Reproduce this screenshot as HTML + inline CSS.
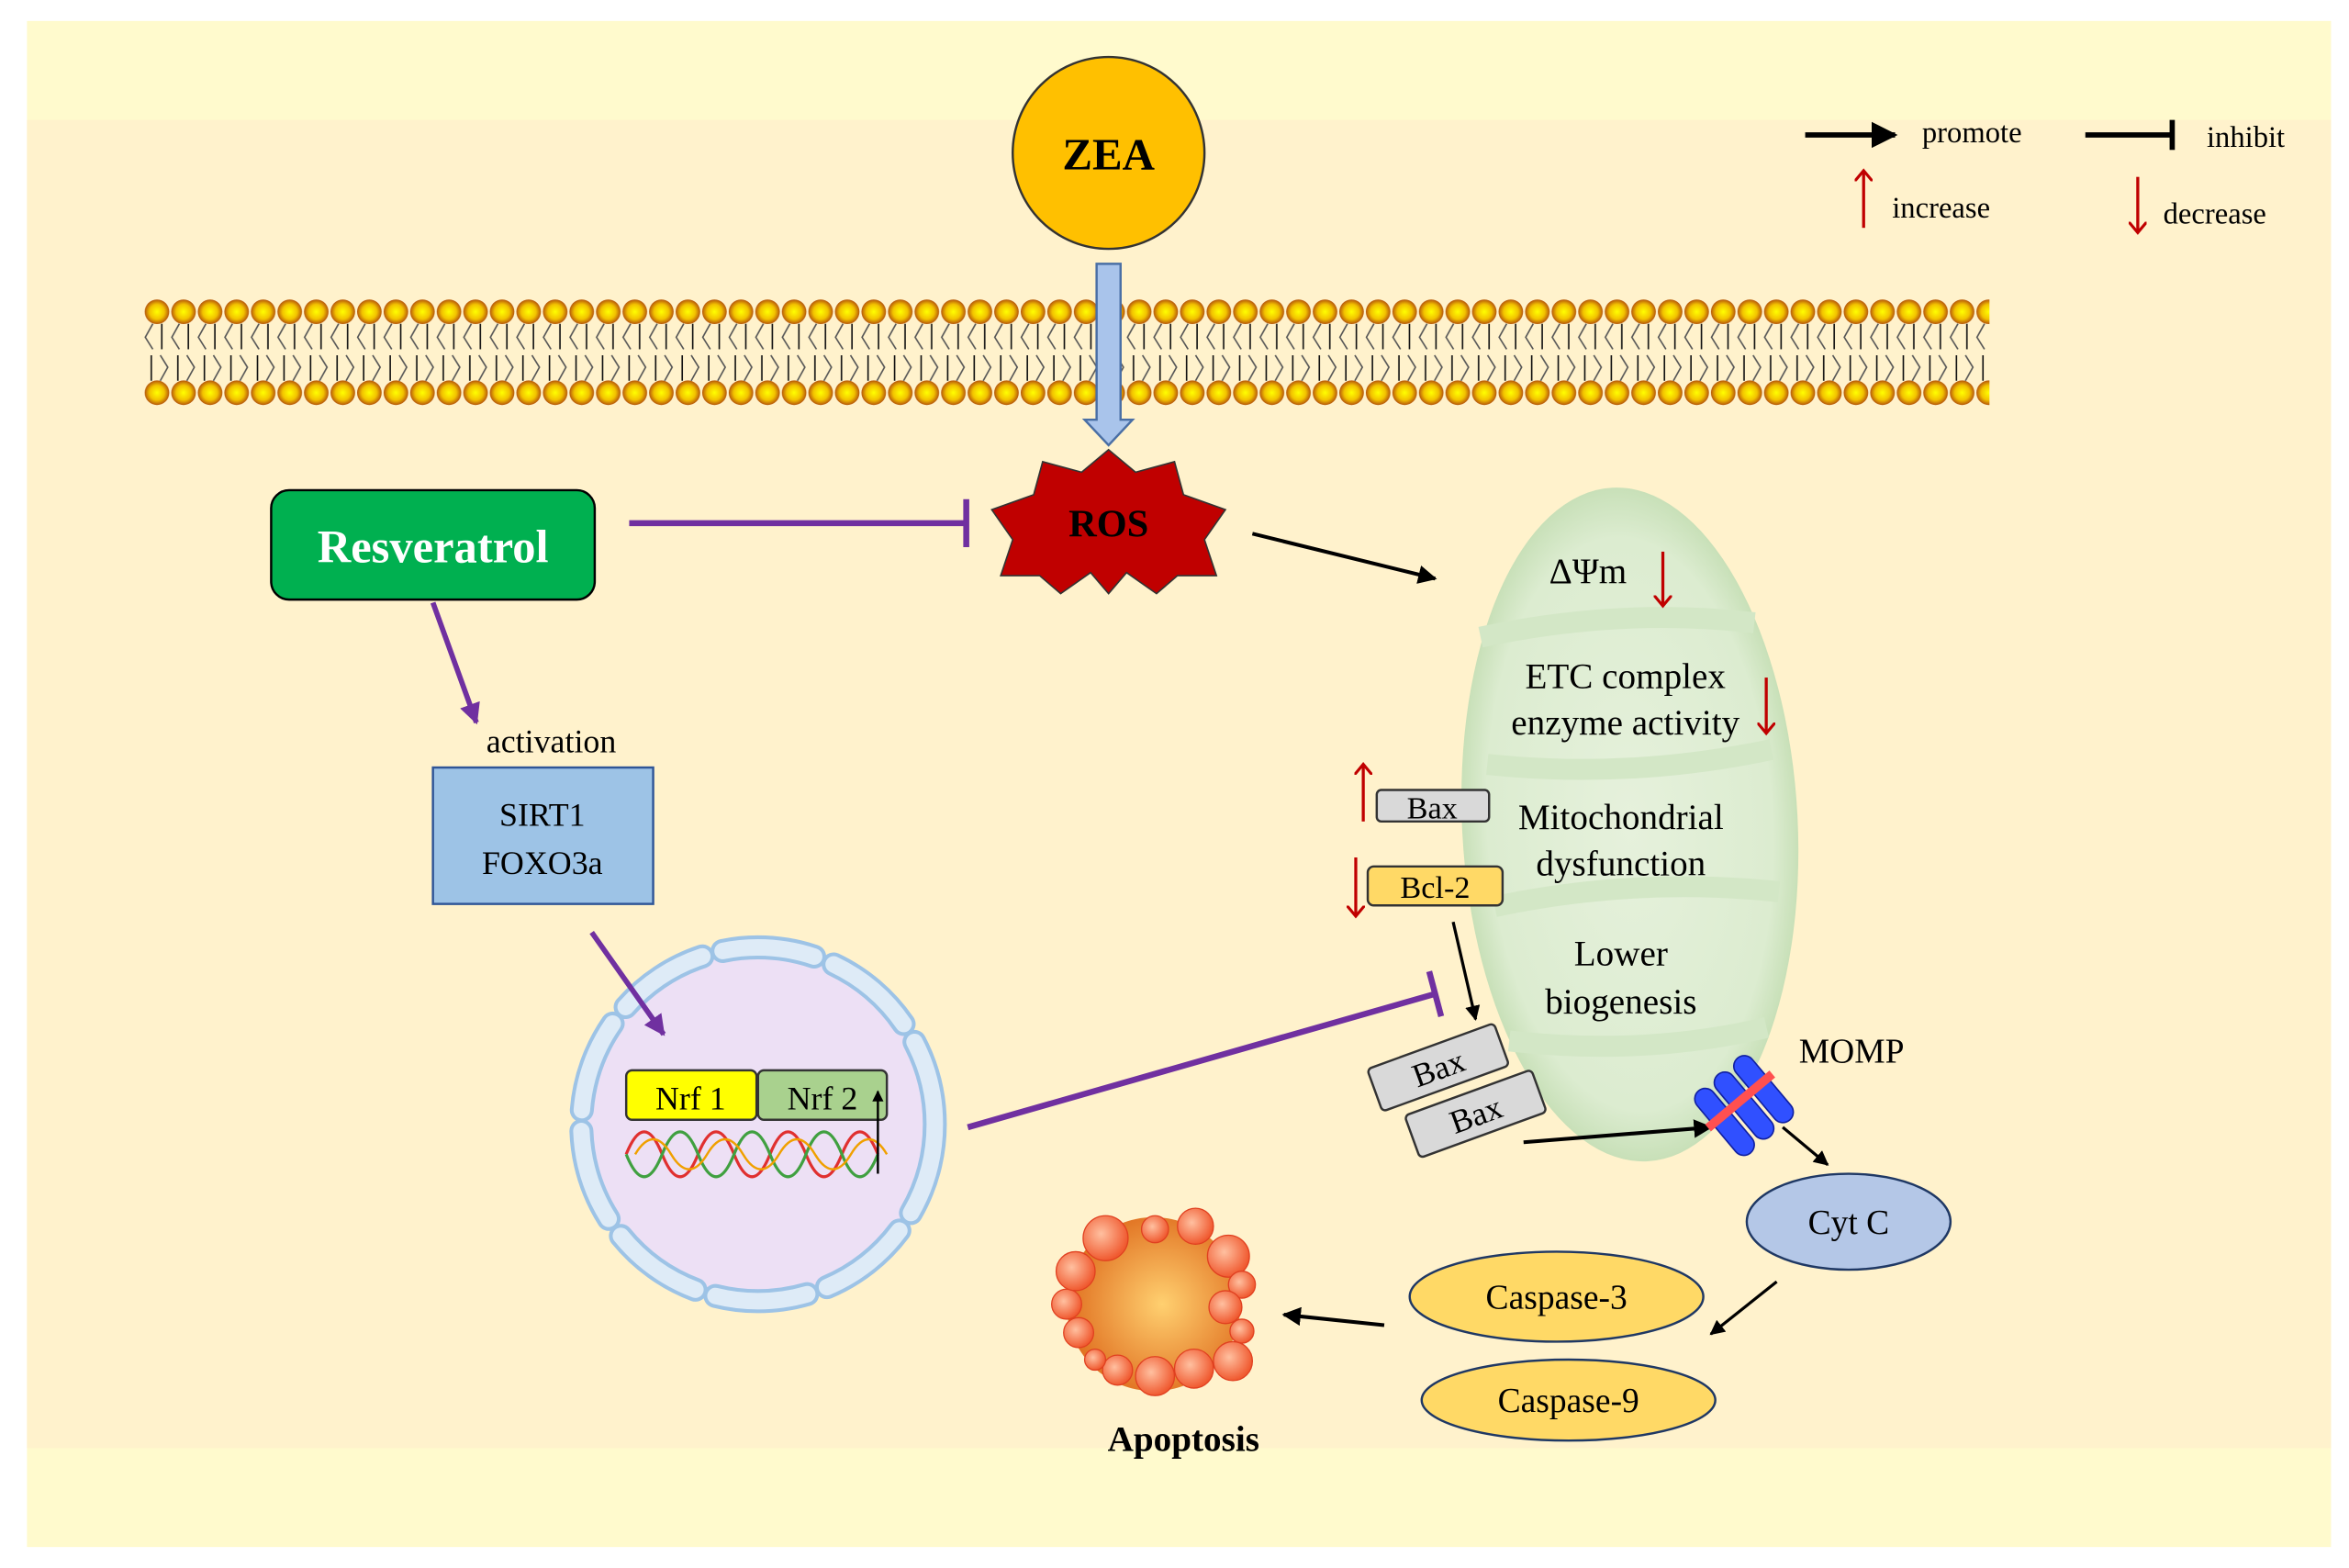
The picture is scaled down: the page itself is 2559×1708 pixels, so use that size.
<!DOCTYPE html>
<html><head><meta charset="utf-8"><style>
html,body{margin:0;padding:0;background:#fff;}
svg{display:block;}
text{font-family:"Liberation Serif",serif;}
</style></head><body>
<svg width="2559" height="1708" viewBox="0 0 1568 1046" preserveAspectRatio="none" xmlns="http://www.w3.org/2000/svg">
<defs>
<radialGradient id="head" cx="50%" cy="50%" r="50%"><stop offset="0" stop-color="#ffff00"/><stop offset="0.6" stop-color="#f2c200"/><stop offset="1" stop-color="#b5560a"/></radialGradient>
<pattern id="mem" x="96" y="0" width="17.72" height="1046" patternUnits="userSpaceOnUse">
<circle cx="8.8" cy="208" r="8.2" fill="url(#head)"/>
<circle cx="8.8" cy="262" r="8.2" fill="url(#head)"/>
<path d="M6 216 L1 225 L6 233" stroke="#555" stroke-width="1" fill="none"/>
<line x1="12" y1="216" x2="12" y2="233" stroke="#111" stroke-width="1"/>
<path d="M11 237 L16 245 L11 254" stroke="#555" stroke-width="1" fill="none"/>
<line x1="5" y1="237" x2="5" y2="254" stroke="#111" stroke-width="1"/>
</pattern>
<radialGradient id="apo" cx="55%" cy="50%" r="55%"><stop offset="0" stop-color="#ffd070"/><stop offset="1" stop-color="#e07020"/></radialGradient>
<radialGradient id="bub" cx="40%" cy="40%" r="60%"><stop offset="0" stop-color="#ffc0a0"/><stop offset="1" stop-color="#f05a30"/></radialGradient>
<radialGradient id="mito" cx="50%" cy="50%" r="50%"><stop offset="0" stop-color="#e6f1dc"/><stop offset="0.85" stop-color="#dcecd0"/><stop offset="1" stop-color="#c8e0b8"/></radialGradient>
<marker id="ar" viewBox="0 0 10 10" refX="9" refY="5" markerWidth="5" markerHeight="5" orient="auto"><path d="M0 0L10 5L0 10z" fill="#000"/></marker>
<marker id="arp" viewBox="0 0 10 10" refX="9" refY="5" markerWidth="4" markerHeight="4" orient="auto"><path d="M0 0L10 5L0 10z" fill="#7030a0"/></marker>
<marker id="arr" viewBox="0 0 10 10" refX="5" refY="5" markerWidth="6" markerHeight="6" orient="auto"><path d="M0 0L6 5L0 10" stroke="#c00000" stroke-width="1.6" fill="none"/></marker>
</defs>
<rect x="18" y="14" width="1538" height="1018" fill="#fffacd"/>
<rect x="18" y="80" width="1538" height="886" fill="#fff2cc"/>
<rect x="96" y="198" width="1232" height="76" fill="url(#mem)"/>
<circle cx="740" cy="102" r="64" fill="#ffc000" stroke="#333" stroke-width="1.5"/>
<text x="740" y="113" font-size="30" font-weight="bold" text-anchor="middle">ZEA</text>
<path d="M732 176 H748 V280 H756 L740 297 L724 280 H732 Z" fill="#a9c4eb" stroke="#4a6fa5" stroke-width="1.5"/>
<polygon points="740,300 758,315 784,308 790,330 818,340 804,360 812,384 786,384 772,396 752,382 740,396 728,382 708,396 694,384 668,384 676,360 662,340 690,330 696,308 722,315" fill="#c00000" stroke="#333" stroke-width="1"/>
<text x="740" y="358" font-size="26" font-weight="bold" text-anchor="middle">ROS</text>
<rect x="181" y="327" width="216" height="73" rx="12" fill="#00b050" stroke="#000" stroke-width="1.5"/>
<text x="289" y="375" font-size="31" font-weight="bold" fill="#fff" text-anchor="middle">Resveratrol</text>
<line x1="420" y1="349" x2="645" y2="349" stroke="#7030a0" stroke-width="4"/>
<line x1="645" y1="333" x2="645" y2="365" stroke="#7030a0" stroke-width="4"/>
<line x1="289" y1="402" x2="318" y2="482" stroke="#7030a0" stroke-width="3.5" marker-end="url(#arp)"/>
<text x="368" y="502" font-size="22" text-anchor="middle">activation</text>
<rect x="289" y="512" width="147" height="91" fill="#9dc3e6" stroke="#2f5597" stroke-width="1.5"/>
<text x="362" y="551" font-size="22" text-anchor="middle">SIRT1</text>
<text x="362" y="583" font-size="22" text-anchor="middle">FOXO3a</text>
<circle cx="506" cy="750" r="122" fill="#ede0f5"/>
<circle cx="506" cy="750" r="118" fill="none" stroke="#9dc3e6" stroke-width="16" stroke-dasharray="62 14" stroke-linecap="round"/>
<circle cx="506" cy="750" r="118" fill="none" stroke="#deebf7" stroke-width="11" stroke-dasharray="62 14" stroke-linecap="round"/>
<line x1="395" y1="622" x2="443" y2="690" stroke="#7030a0" stroke-width="3.5" marker-end="url(#arp)"/>
<rect x="418" y="714" width="87" height="33" rx="4" fill="#ffff00" stroke="#333" stroke-width="1.5"/>
<text x="461" y="740" font-size="22" text-anchor="middle">Nrf 1</text>
<rect x="506" y="714" width="86" height="33" rx="4" fill="#a9d18e" stroke="#333" stroke-width="1.5"/>
<text x="549" y="740" font-size="22" text-anchor="middle">Nrf 2</text>
<path d="M418 770 Q430 740 442 770 T466 770 T490 770 T514 770 T538 770 T562 770 T586 770" stroke="#e03030" stroke-width="2" fill="none"/>
<path d="M418 770 Q430 800 442 770 T466 770 T490 770 T514 770 T538 770 T562 770 T586 770" stroke="#40a040" stroke-width="2" fill="none"/>
<path d="M424 770 Q436 750 448 770 T472 770 T496 770 T520 770 T544 770 T568 770 T592 770" stroke="#f0a000" stroke-width="1.5" fill="none"/>
<line x1="586" y1="783" x2="586" y2="728" stroke="#000" stroke-width="1.5" marker-end="url(#ar)"/>
<line x1="646" y1="752" x2="958" y2="663" stroke="#7030a0" stroke-width="4"/>
<line x1="954" y1="648" x2="962" y2="678" stroke="#7030a0" stroke-width="4"/>
<g transform="rotate(-3 1088 550)">
<ellipse cx="1088" cy="550" rx="112" ry="225" fill="url(#mito)"/>
<path d="M995 420 Q1090 405 1178 420 M995 505 Q1090 520 1185 505 M995 600 Q1090 585 1185 600 M1000 690 Q1090 705 1172 690" stroke="#d3e7c6" stroke-width="14" fill="none"/>
</g>
<line x1="836" y1="356" x2="958" y2="386" stroke="#000" stroke-width="2.5" marker-end="url(#ar)"/>
<text x="1060" y="389" font-size="24" text-anchor="middle">ΔΨm</text>
<line x1="1110" y1="368" x2="1110" y2="403" stroke="#c00000" stroke-width="2" marker-end="url(#arr)"/>
<text x="1085" y="459" font-size="24" text-anchor="middle">ETC complex</text>
<text x="1085" y="490" font-size="24" text-anchor="middle">enzyme activity</text>
<line x1="1179" y1="452" x2="1179" y2="488" stroke="#c00000" stroke-width="2" marker-end="url(#arr)"/>
<text x="1082" y="553" font-size="24" text-anchor="middle">Mitochondrial</text>
<text x="1082" y="584" font-size="24" text-anchor="middle">dysfunction</text>
<text x="1082" y="644" font-size="24" text-anchor="middle">Lower</text>
<text x="1082" y="676" font-size="24" text-anchor="middle">biogenesis</text>
<rect x="919" y="527" width="75" height="21" rx="3" fill="#d9d9d9" stroke="#333" stroke-width="1.5"/>
<text x="956" y="546" font-size="21" text-anchor="middle">Bax</text>
<line x1="910" y1="548" x2="910" y2="511" stroke="#c00000" stroke-width="2" marker-end="url(#arr)"/>
<rect x="913" y="578" width="90" height="26" rx="4" fill="#ffd966" stroke="#333" stroke-width="1.5"/>
<text x="958" y="599" font-size="21" text-anchor="middle">Bcl-2</text>
<line x1="905" y1="572" x2="905" y2="610" stroke="#c00000" stroke-width="2" marker-end="url(#arr)"/>
<line x1="970" y1="615" x2="985" y2="680" stroke="#000" stroke-width="2" marker-end="url(#ar)"/>
<g transform="rotate(-20 985 743)"><rect x="940" y="728" width="90" height="30" rx="3" fill="#d9d9d9" stroke="#333" stroke-width="1.5"/><text x="985" y="751" font-size="22" text-anchor="middle">Bax</text></g>
<g transform="rotate(-20 960 712)"><rect x="915" y="697" width="90" height="30" rx="3" fill="#d9d9d9" stroke="#333" stroke-width="1.5"/><text x="960" y="720" font-size="22" text-anchor="middle">Bax</text></g>
<line x1="1017" y1="762" x2="1142" y2="752" stroke="#000" stroke-width="2.5" marker-end="url(#ar)"/>
<g transform="rotate(-40 1162 738)">
<rect x="1140" y="712" width="14" height="54" rx="7" fill="#3050ff" stroke="#1020a0"/>
<rect x="1157" y="712" width="14" height="54" rx="7" fill="#3050ff" stroke="#1020a0"/>
<rect x="1174" y="712" width="14" height="54" rx="7" fill="#3050ff" stroke="#1020a0"/>
<rect x="1136" y="732" width="56" height="6" fill="#ff5050"/>
</g>
<text x="1236" y="709" font-size="23" text-anchor="middle">MOMP</text>
<line x1="1190" y1="752" x2="1220" y2="777" stroke="#000" stroke-width="2" marker-end="url(#ar)"/>
<ellipse cx="1234" cy="815" rx="68" ry="32" fill="#b4c7e7" stroke="#1f3864" stroke-width="1.5"/>
<text x="1234" y="823" font-size="23" text-anchor="middle">Cyt C</text>
<line x1="1186" y1="855" x2="1142" y2="890" stroke="#000" stroke-width="2" marker-end="url(#ar)"/>
<ellipse cx="1039" cy="865" rx="98" ry="30" fill="#ffd966" stroke="#1f3864" stroke-width="1.5"/>
<text x="1039" y="873" font-size="23" text-anchor="middle">Caspase-3</text>
<ellipse cx="1047" cy="934" rx="98" ry="27" fill="#ffd966" stroke="#1f3864" stroke-width="1.5"/>
<text x="1047" y="942" font-size="23" text-anchor="middle">Caspase-9</text>
<line x1="924" y1="884" x2="857" y2="877" stroke="#000" stroke-width="2.5" marker-end="url(#ar)"/>
<circle cx="770" cy="870" r="58" fill="url(#apo)"/>
<g fill="url(#bub)" stroke="#e04020" stroke-width="0.8">
<circle cx="771" cy="820" r="9"/><circle cx="798" cy="818" r="12"/><circle cx="820" cy="838" r="14"/><circle cx="829" cy="857" r="9"/>
<circle cx="818" cy="872" r="11"/><circle cx="829" cy="888" r="8"/><circle cx="823" cy="908" r="13"/><circle cx="797" cy="913" r="13"/>
<circle cx="771" cy="918" r="13"/><circle cx="746" cy="914" r="10"/><circle cx="731" cy="907" r="7"/><circle cx="720" cy="889" r="10"/>
<circle cx="712" cy="870" r="10"/><circle cx="718" cy="848" r="13"/><circle cx="738" cy="826" r="15"/>
</g>
<text x="790" y="968" font-size="24" font-weight="bold" text-anchor="middle">Apoptosis</text>
<line x1="1205" y1="90" x2="1265" y2="90" stroke="#000" stroke-width="3.5" marker-end="url(#ar)"/>
<text x="1283" y="95" font-size="20">promote</text>
<line x1="1392" y1="90" x2="1450" y2="90" stroke="#000" stroke-width="3.5"/>
<line x1="1450" y1="80" x2="1450" y2="100" stroke="#000" stroke-width="3.5"/>
<text x="1473" y="98" font-size="20">inhibit</text>
<line x1="1244" y1="152" x2="1244" y2="115" stroke="#c00000" stroke-width="2" marker-end="url(#arr)"/>
<text x="1263" y="145" font-size="20">increase</text>
<line x1="1427" y1="118" x2="1427" y2="154" stroke="#c00000" stroke-width="2" marker-end="url(#arr)"/>
<text x="1444" y="149" font-size="20">decrease</text>
</svg>
</body></html>
